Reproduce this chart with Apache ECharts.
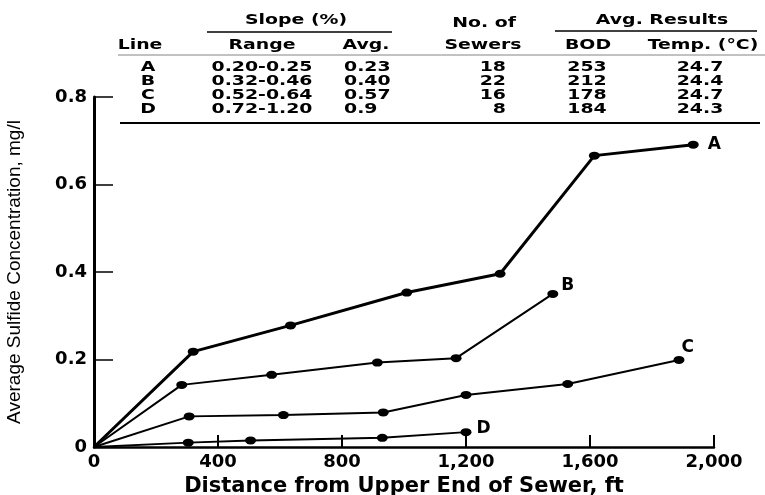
<!DOCTYPE html>
<html>
<head>
<meta charset="utf-8">
<script src="https://cdn.jsdelivr.net/npm/echarts@6/dist/echarts.min.js"></script>
<style>html,body{margin:0;padding:0;background:#fff;}#c{width:765px;height:495px;}</style>
</head>
<body>
<div id="c"></div>
<script>
// ---- data ----
const xTicks = [0, 400, 800, 1200, 1600, 2000];
const yTicks = [0, 0.2, 0.4, 0.6, 0.8];

const lineA_x = [0, 320, 634, 1009, 1310, 1614, 1933];
const lineA_y = [0, 0.218, 0.278, 0.353, 0.396, 0.666, 0.691];
const lineB_x = [0, 283, 573, 914, 1168, 1480];
const lineB_y = [0, 0.142, 0.165, 0.193, 0.203, 0.350];
const lineC_x = [0, 307, 611, 933, 1200, 1528, 1887];
const lineC_y = [0, 0.070, 0.073, 0.079, 0.119, 0.144, 0.199];
const lineD_x = [0, 304, 505, 930, 1200];
const lineD_y = [0, 0.010, 0.015, 0.021, 0.034];

// table
const lineIds    = ['A', 'B', 'C', 'D'];
const slopeRange = ['0.20-0.25', '0.32-0.46', '0.52-0.64', '0.72-1.20'];
const slopeAvg   = ['0.23', '0.40', '0.57', '0.9'];
const numSewers  = ['18', '22', '16', '8'];
const bodAvg     = ['253', '212', '178', '184'];
const tempAvg    = ['24.7', '24.4', '24.7', '24.3'];

// ---- chart ----
const FONT_B = 'bold 16px "DejaVu Sans"';
const SX = 1.18, SY = 0.92;
function mk(xs, ys) {
  return xs.map((x, i) => i === 0 ? { value: [x, ys[i]], symbol: 'none' } : [x, ys[i]]);
}
function series(name, xs, ys, w, lblOff) {
  const d = mk(xs, ys);
  const last = d.length - 1;
  d[last] = {
    value: d[last],
    label: { show: true, formatter: name, position: 'right', offset: lblOff,
             color: '#000', fontFamily: 'DejaVu Sans', fontWeight: 'bold', fontSize: 17 }
  };
  return {
    type: 'line', name: name, data: d, symbol: 'circle', symbolSize: [11, 8],
    showAllSymbol: true, animation: false,
    lineStyle: { color: '#000', width: w }, itemStyle: { color: '#000' }
  };
}

const graphics = [];
function txt(t, x, y, align) {
  graphics.push({ type: 'text', x: x, y: y, scaleX: SX, scaleY: SY,
    style: { text: t, font: FONT_B, fill: '#000', textAlign: align || 'center', textVerticalAlign: 'middle' } });
}
function hl(x1, x2, y, w, c) {
  graphics.push({ type: 'line', shape: { x1: x1, y1: y, x2: x2, y2: y }, style: { stroke: c || '#000', lineWidth: w } });
}
txt('Slope (%)', 296, 20);
txt('No. of', 484, 23);
txt('Avg. Results', 662, 20);
hl(207, 392, 32, 1.5);
hl(555, 757, 31, 1.5);
txt('Line', 140, 45);
txt('Range', 262, 45);
txt('Avg.', 366, 45);
txt('Sewers', 483, 45);
txt('BOD', 588, 45);
txt('Temp. (°C)', 703, 45);
hl(118, 765, 55, 0.8, '#666');
const rowY = [67, 81, 95, 109];
for (let i = 0; i < lineIds.length; i++) {
  txt(lineIds[i], 148, rowY[i]);
  txt(slopeRange[i], 262, rowY[i]);
  txt(slopeAvg[i], 344, rowY[i], 'left');
  txt(numSewers[i], 506, rowY[i], 'right');
  txt(bodAvg[i], 587, rowY[i]);
  txt(tempAvg[i], 700, rowY[i]);
}
hl(120, 760, 123, 2);

const chart = echarts.init(document.getElementById('c'), null, { renderer: 'canvas' });
chart.setOption({
  animation: false,
  backgroundColor: '#fff',
  grid: { left: 94, right: 51, top: 97, bottom: 48, containLabel: false, outerBoundsMode: 'none' },
  xAxis: {
    type: 'value', min: xTicks[0], max: xTicks[xTicks.length - 1], interval: 400,
    name: 'Distance from Upper End of Sewer, ft', nameLocation: 'middle', nameGap: 28,
    nameTextStyle: { color: '#000', fontFamily: 'DejaVu Sans', fontWeight: 'bold', fontSize: 21, lineHeight: 22 },
    axisLine: { lineStyle: { color: '#000', width: 2.5 } },
    axisTick: { inside: true, length: 12, lineStyle: { color: '#000', width: 2 } },
    axisLabel: { color: '#000', fontFamily: 'DejaVu Sans', fontWeight: 'bold', fontSize: 18, margin: 6,
      formatter: v => String(v).replace(/\B(?=(\d{3})+(?!\d))/g, ',') },
    splitLine: { show: false }
  },
  yAxis: {
    type: 'value', min: yTicks[0], max: yTicks[yTicks.length - 1], interval: 0.2,
    name: 'Average Sulfide Concentration, mg/l', nameLocation: 'middle', nameGap: 70,
    nameTextStyle: { color: '#000', fontFamily: 'Liberation Sans', fontSize: 19 },
    axisLine: { lineStyle: { color: '#000', width: 3 } },
    axisTick: { inside: true, length: 19, lineStyle: { color: '#000', width: 1.5 } },
    axisLabel: { color: '#000', fontFamily: 'DejaVu Sans', fontWeight: 'bold', fontSize: 18, margin: 7,
      formatter: v => v === 0 ? '0' : v.toFixed(1) },
    splitLine: { show: false }
  },
  series: [
    series('A', lineA_x, lineA_y, 3, [4, 0]),
    series('B', lineB_x, lineB_y, 2, [-2, -8]),
    series('C', lineC_x, lineC_y, 2, [-8, -12]),
    series('D', lineD_x, lineD_y, 2, [0, -4])
  ],
  graphic: graphics
});
</script>
</body>
</html>
